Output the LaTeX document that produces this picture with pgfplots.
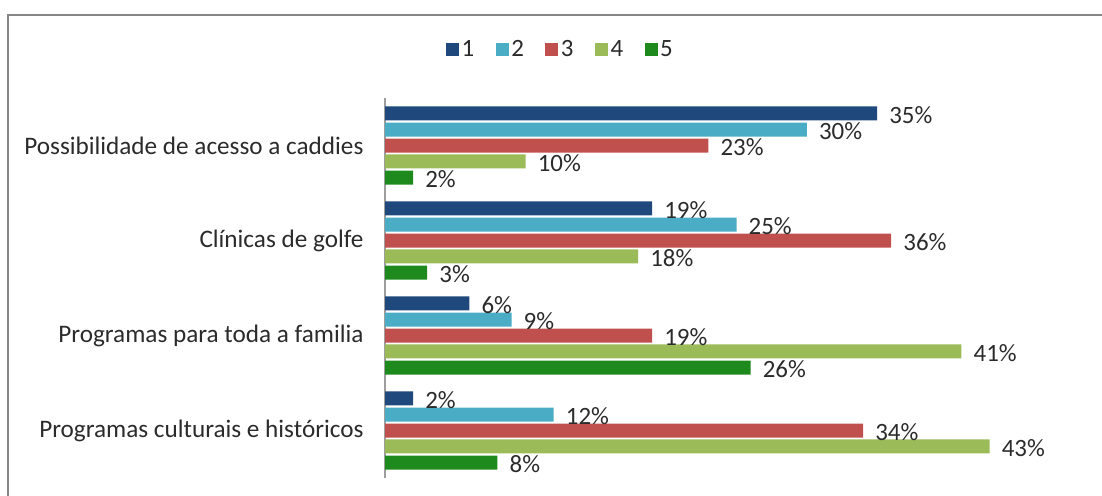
\documentclass[border=0pt]{standalone}
\usepackage{pgfplots}
\pgfplotsset{compat=1.18}
\usepackage{fontspec}
\setmainfont{Carlito}
\definecolor{c1}{HTML}{1F497D}
\definecolor{c2}{HTML}{4BACC6}
\definecolor{c3}{HTML}{C0504D}
\definecolor{c4}{HTML}{9BBB59}
\definecolor{c5}{HTML}{1E8A1E}
\definecolor{frame}{HTML}{878787}
\definecolor{txt}{HTML}{2B2B2B}
\pgfplotsset{sq legend/.style={legend image code/.code={\fill[##1,draw=none] (0bp,-6.5bp) rectangle (13bp,6.5bp);}}}
\begin{document}
\begin{tikzpicture}[x=1bp,y=1bp]
\path[use as bounding box] (0,0) rectangle (1102,-496);
\draw[color=frame, line width=2.5bp] (8,-497) -- (8,-15) -- (1103,-15);
\begin{axis}[
  at={(385bp,-478bp)}, anchor=south west,
  scale only axis, width=703bp, height=380bp,
  xmin=0, xmax=50, ymin=-0.5, ymax=3.5,
  axis x line=none, axis y line*=left,
  y axis line style={color=black!38, line width=1.2bp},
  xbar, bar width=14bp, bar shift=0pt,
  ytick={0,1,2,3},
  yticklabels={Programas culturais e históricos, Programas para toda a familia, Clínicas de golfe, Possibilidade de acesso a caddies},
  major tick length=0pt,
  yticklabel style={font=\fontsize{25.3}{29}\selectfont, text=txt, xshift=-18bp},
  /pgf/number format/assume math mode=true,
  point meta=x,
  nodes near coords={\pgfmathprintnumber{\pgfplotspointmeta}\%},
  every node near coord/.append style={anchor=west, xshift=12bp, yshift=-2bp, font=\fontsize{25}{29}\selectfont, text=txt, inner sep=0pt},
  legend columns=5,
  legend style={at={(0.25,1.128)}, anchor=center, draw=none, fill=none,
    font=\fontsize{25}{29}\selectfont, text=txt,
    /tikz/every even column/.append style={column sep=19bp},
    nodes={inner sep=2.5bp}},
  clip=false,
]
\addplot[fill=c1, draw=none, sq legend] coordinates {(35,3.337) (19,2.337) (6,1.337) (2,0.337)};
\addplot[fill=c2, draw=none, sq legend] coordinates {(30,3.168) (25,2.168) (9,1.168) (12,0.168)};
\addplot[fill=c3, draw=none, sq legend] coordinates {(23,3) (36,2) (19,1) (34,0)};
\addplot[fill=c4, draw=none, sq legend] coordinates {(10,2.832) (18,1.832) (41,0.832) (43,-0.168)};
\addplot[fill=c5, draw=none, sq legend] coordinates {(2,2.663) (3,1.663) (26,0.663) (8,-0.337)};
\legend{1,2,3,4,5}
\end{axis}
\end{tikzpicture}
\end{document}
